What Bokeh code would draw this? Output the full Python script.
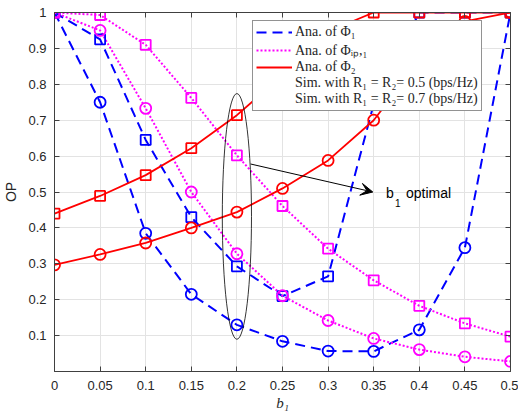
from bokeh.plotting import figure
from bokeh.models import (ColumnDataSource, Legend, LegendItem, FixedTicker, LinearAxis,
                          NumeralTickFormatter, Arrow, VeeHead, Label, Range1d)
from bokeh.embed import file_html
from bokeh.resources import INLINE

# ---------------- data ----------------
b1 = [0.0, 0.05, 0.1, 0.15, 0.2, 0.25, 0.3, 0.35, 0.4, 0.45, 0.5]

phi1_r05 = [1.0, 0.75, 0.385, 0.215, 0.13, 0.084, 0.057, 0.056, 0.116, 0.345, 1.0]
phi1_r07 = [1.0, 0.925, 0.645, 0.43, 0.293, 0.21, 0.265, 0.745, 1.0, 1.0, 1.0]
phiip_r05 = [1.0, 0.95, 0.733, 0.5, 0.328, 0.211, 0.142, 0.092, 0.061, 0.041, 0.028]
phiip_r07 = [1.0, 0.993, 0.91, 0.762, 0.602, 0.461, 0.342, 0.254, 0.183, 0.134, 0.097]
phi2_r05 = [0.297, 0.326, 0.358, 0.4, 0.444, 0.51, 0.588, 0.70, 0.865, 0.975, 1.0]
phi2_r07 = [0.44, 0.489, 0.547, 0.622, 0.714, 0.825, 0.947, 1.0, 1.0, 1.0, 1.0]

x_ticks = [0.0, 0.05, 0.1, 0.15, 0.2, 0.25, 0.3, 0.35, 0.4, 0.45, 0.5]
y_ticks = [0.1, 0.2, 0.3, 0.4, 0.5, 0.6, 0.7, 0.8, 0.9, 1.0]

legend_labels = ["Ana. of \u03a6\u2081", "Ana. of \u03a6\u1d62\u209a,\u2081", "Ana. of \u03a6\u2082",
                 "Sim. with R\u2081 = R\u2082= 0.5 (bps/Hz)", "Sim. with R\u2081 = R\u2082= 0.7 (bps/Hz)"]

BLUE, MAG, RED = "#0000ff", "#ff00ff", "#ff0000"
TXT = "#262626"

p = figure(width=518, height=414, output_backend="svg", toolbar_location=None,
           x_range=Range1d(0, 0.5), y_range=Range1d(0, 1),
           min_border_left=47, min_border_right=8, min_border_top=12, min_border_bottom=43)
p.background_fill_color = "white"
p.border_fill_color = "white"
p.outline_line_color = "#404040"
p.outline_line_width = 1

# axes styling
for ax in (p.xaxis[0], p.yaxis[0]):
    ax.major_tick_in = 5
    ax.major_tick_out = 0
    ax.minor_tick_in = 0
    ax.minor_tick_out = 0
    ax.axis_line_color = "#404040"
    ax.major_tick_line_color = "#404040"
    ax.major_label_text_font = "Liberation Sans"
    ax.major_label_text_font_size = "13px"
    ax.major_label_text_color = TXT
    ax.formatter = NumeralTickFormatter(format="0.[00]")

p.xaxis[0].ticker = FixedTicker(ticks=x_ticks)
p.yaxis[0].ticker = FixedTicker(ticks=y_ticks)
p.xaxis[0].major_label_standoff = 9
p.yaxis[0].major_label_standoff = 8
p.xaxis[0].axis_label = "b\u2081"
p.xaxis[0].axis_label_text_font = "Liberation Serif"
p.xaxis[0].axis_label_text_font_style = "italic"
p.xaxis[0].axis_label_text_font_size = "15px"
p.xaxis[0].axis_label_text_color = TXT
p.xaxis[0].axis_label_standoff = 2
p.yaxis[0].axis_label = "OP"
p.yaxis[0].axis_label_text_font = "Liberation Sans"
p.yaxis[0].axis_label_text_font_style = "normal"
p.yaxis[0].axis_label_text_font_size = "14px"
p.yaxis[0].axis_label_text_color = TXT
p.yaxis[0].axis_label_standoff = 6

# box axes (top, right) with ticks only
for loc, tk in (("right", y_ticks), ("above", x_ticks)):
    ax = LinearAxis(ticker=FixedTicker(ticks=tk), major_label_text_font_size="0px",
                    major_label_standoff=0, major_tick_in=5, major_tick_out=0,
                    minor_tick_in=0, minor_tick_out=0, axis_line_color="#404040",
                    major_tick_line_color="#404040")
    p.add_layout(ax, loc)

p.xgrid.ticker = FixedTicker(ticks=x_ticks)
p.ygrid.ticker = FixedTicker(ticks=y_ticks)
p.xgrid.grid_line_color = "#e3e3e3"
p.ygrid.grid_line_color = "#e3e3e3"

src = ColumnDataSource(dict(b1=b1, phi1_r05=phi1_r05, phi1_r07=phi1_r07,
                            phiip_r05=phiip_r05, phiip_r07=phiip_r07,
                            phi2_r05=phi2_r05, phi2_r07=phi2_r07))

lw = 2
l_phi1 = p.line("b1", "phi1_r05", source=src, line_color=BLUE, line_width=lw, line_dash="10 6")
p.line("b1", "phi1_r07", source=src, line_color=BLUE, line_width=lw, line_dash="10 6")
l_ip = p.line("b1", "phiip_r05", source=src, line_color=MAG, line_width=lw, line_dash="2 2")
p.line("b1", "phiip_r07", source=src, line_color=MAG, line_width=lw, line_dash="2 2")
l_phi2 = p.line("b1", "phi2_r05", source=src, line_color=RED, line_width=1.8)
p.line("b1", "phi2_r07", source=src, line_color=RED, line_width=1.8)

ms_c, ms_s, mlw = 11, 10, 1.8
p.scatter("b1", "phi1_r05", source=src, marker="circle", size=ms_c, fill_color=None, line_color=BLUE, line_width=mlw)
p.scatter("b1", "phi1_r07", source=src, marker="square", size=ms_s, fill_color=None, line_color=BLUE, line_width=mlw)
p.scatter("b1", "phiip_r05", source=src, marker="circle", size=ms_c, fill_color=None, line_color=MAG, line_width=mlw)
p.scatter("b1", "phiip_r07", source=src, marker="square", size=ms_s, fill_color=None, line_color=MAG, line_width=mlw)
p.scatter("b1", "phi2_r05", source=src, marker="circle", size=ms_c, fill_color=None, line_color=RED, line_width=mlw)
p.scatter("b1", "phi2_r07", source=src, marker="square", size=ms_s, fill_color=None, line_color=RED, line_width=mlw)

# legend-only marker renderers (empty data)
empty = ColumnDataSource(dict(x=[], y=[]))
d_c = p.scatter("x", "y", source=empty, marker="circle", size=ms_c, fill_color=None, line_color=BLUE, line_width=2.2)
d_s = p.scatter("x", "y", source=empty, marker="square", size=ms_s, fill_color=None, line_color=BLUE, line_width=2.2)

# ellipse + arrow + text annotation
p.ellipse(x=[0.2], y=[0.432], width=[0.032], height=[0.685], fill_color=None,
          line_color="black", line_width=0.8)
p.add_layout(Arrow(end=VeeHead(size=12, fill_color="black", line_color="black", line_width=1),
                   x_start=0.215, y_start=0.578, x_end=0.349, y_end=0.5,
                   line_color="black", line_width=1))
p.add_layout(Label(x=0.3634, y=0.475, text="b", text_font="Liberation Sans",
                   text_font_size="14px", text_color="black"))
p.add_layout(Label(x=0.3634, y=0.475, x_offset=9, y_offset=-6, text="1", text_font="Liberation Sans",
                   text_font_size="10px", text_color="black"))
p.add_layout(Label(x=0.3634, y=0.475, x_offset=20, text="optimal", text_font="Liberation Sans",
                   text_font_size="14px", text_color="black"))

legend = Legend(items=[LegendItem(label=legend_labels[0], renderers=[l_phi1]),
                       LegendItem(label=legend_labels[1], renderers=[l_ip]),
                       LegendItem(label=legend_labels[2], renderers=[l_phi2]),
                       LegendItem(label=legend_labels[3], renderers=[d_c]),
                       LegendItem(label=legend_labels[4], renderers=[d_s])],
                location=(198, 260), margin=0, padding=3, spacing=0,
                glyph_width=36, glyph_height=14, label_height=14, label_standoff=3,
                label_text_font="Liberation Serif", label_text_font_size="14px",
                label_text_color=TXT, border_line_color="#262626", border_line_width=1,
                background_fill_color="white", background_fill_alpha=1)
p.add_layout(legend, "center")

open("out.html", "w").write(file_html(p, INLINE))
